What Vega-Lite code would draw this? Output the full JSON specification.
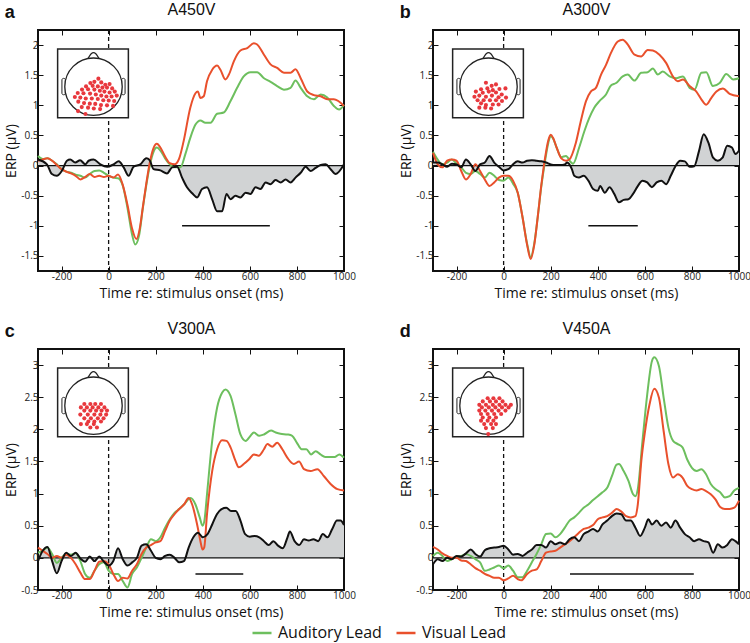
{
"$schema": "https://vega.github.io/schema/vega-lite/v6.json",
"padding": {"left": 3, "top": 0, "right": 2, "bottom": 2},
"config": {
  "font": "Open Sans",
  "view": {"stroke": "#111", "strokeWidth": 2},
  "axis": {"domain": false, "grid": false, "tickColor": "#111", "tickSize": -5, "tickWidth": 1, "labelColor": "#222", "labelFontSize": 10, "titleFontSize": 14, "titleFontWeight": "normal", "titleColor": "#111", "labelFlush": false},
  "legend": {"orient": "none", "legendX": 213, "legendY": 592, "direction": "horizontal", "symbolType": "stroke", "symbolSize": 361, "symbolStrokeWidth": 2.5, "labelFontSize": 16, "labelOffset": 5, "columnPadding": 9, "labelColor": "#111", "labelLimit": 300},
  "title": {"color": "#111"}
},
"datasets": {
  "sig": [{"p": "a", "t1": 312, "t2": 685, "y": -1}, {"p": "b", "t1": 360, "t2": 570, "y": -1}, {"p": "c", "t1": 369, "t2": 572, "y": -0.25}, {"p": "d", "t1": 282, "t2": 808, "y": -0.25}],
  "head": [
    {"k": "box", "x1": -1.25, "x2": 1.215, "y1": -1.08, "y2": 1.31},
    {"k": "ear", "x1": -1.1, "x2": -0.98, "y1": -0.28, "y2": 0.29},
    {"k": "ear", "x1": 0.98, "x2": 1.1, "y1": -0.28, "y2": 0.29},
    {"k": "nose", "x1": -0.2, "y1": 0.96}, {"k": "nose", "x1": -0.08, "y1": 1.15}, {"k": "nose", "x1": 0, "y1": 1.19}, {"k": "nose", "x1": 0.08, "y1": 1.15}, {"k": "nose", "x1": 0.2, "y1": 0.96},
    {"k": "head", "x1": 0, "y1": 0}
  ],
  "ea": [{"u":0.17,"v":0.28},{"u":0.03,"v":0.17},{"u":-0.11,"v":0.13},{"u":0.27,"v":0.15},{"u":0.41,"v":0.07},{"u":0.56,"v":0.09},{"u":-0.26,"v":0.01},{"u":-0.03,"v":0.03},{"u":0.15,"v":0.01},{"u":0.31,"v":-0.03},{"u":0.47,"v":-0.03},{"u":0.65,"v":-0.06},{"u":-0.4,"v":-0.1},{"u":-0.19,"v":-0.09},{"u":0.03,"v":-0.1},{"u":0.22,"v":-0.14},{"u":0.38,"v":-0.17},{"u":0.56,"v":-0.2},{"u":0.74,"v":-0.17},{"u":-0.55,"v":-0.22},{"u":-0.35,"v":-0.23},{"u":-0.12,"v":-0.24},{"u":0.08,"v":-0.27},{"u":0.27,"v":-0.31},{"u":0.45,"v":-0.34},{"u":0.63,"v":-0.34},{"u":0.81,"v":-0.31},{"u":-0.65,"v":-0.36},{"u":-0.46,"v":-0.38},{"u":-0.27,"v":-0.41},{"u":-0.06,"v":-0.41},{"u":0.15,"v":-0.43},{"u":0.34,"v":-0.47},{"u":0.53,"v":-0.48},{"u":0.72,"v":-0.5},{"u":-0.53,"v":-0.52},{"u":-0.33,"v":-0.57},{"u":-0.13,"v":-0.59},{"u":0.06,"v":-0.6},{"u":0.26,"v":-0.64},{"u":0.47,"v":-0.65},{"u":0.68,"v":-0.67},{"u":-0.41,"v":-0.71},{"u":-0.19,"v":-0.73},{"u":0.01,"v":-0.76},{"u":0.23,"v":-0.78},{"u":-0.54,"v":-0.85},{"u":-0.28,"v":-0.95}],
  "eb": [{"u":-0.09,"v":0.14},{"u":0.11,"v":0.03},{"u":0.26,"v":0.08},{"u":-0.26,"v":-0.09},{"u":-0.04,"v":-0.06},{"u":0.15,"v":-0.12},{"u":0.38,"v":-0.08},{"u":0.59,"v":-0.06},{"u":-0.44,"v":-0.17},{"u":-0.2,"v":-0.21},{"u":0.01,"v":-0.17},{"u":0.26,"v":-0.2},{"u":0.46,"v":-0.27},{"u":-0.49,"v":-0.35},{"u":-0.32,"v":-0.31},{"u":-0.09,"v":-0.35},{"u":0.12,"v":-0.31},{"u":0.35,"v":-0.37},{"u":0.61,"v":-0.38},{"u":-0.38,"v":-0.47},{"u":-0.17,"v":-0.47},{"u":0.05,"v":-0.47},{"u":0.26,"v":-0.47},{"u":0.47,"v":-0.5},{"u":-0.26,"v":-0.58},{"u":-0.09,"v":-0.64},{"u":0.15,"v":-0.62},{"u":0.35,"v":-0.62},{"u":-0.32,"v":-0.73},{"u":-0.11,"v":-0.73},{"u":0.09,"v":-0.76}],
  "ec": [{"u":-0.32,"v":0.06},{"u":-0.11,"v":0.06},{"u":0.06,"v":0.06},{"u":0.26,"v":0.06},{"u":-0.44,"v":-0.06},{"u":-0.23,"v":-0.06},{"u":-0.03,"v":-0.06},{"u":0.17,"v":-0.06},{"u":0.38,"v":-0.06},{"u":-0.32,"v":-0.17},{"u":-0.11,"v":-0.17},{"u":0.09,"v":-0.17},{"u":0.28,"v":-0.17},{"u":0.47,"v":-0.17},{"u":-0.46,"v":-0.31},{"u":-0.2,"v":-0.31},{"u":0.03,"v":-0.31},{"u":0.24,"v":-0.31},{"u":0.44,"v":-0.31},{"u":-0.32,"v":-0.44},{"u":-0.09,"v":-0.44},{"u":0.15,"v":-0.44},{"u":0.35,"v":-0.44},{"u":-0.18,"v":-0.55},{"u":0.03,"v":-0.55},{"u":0.26,"v":-0.55},{"u":-0.44,"v":-0.64},{"u":-0.23,"v":-0.64},{"u":0.01,"v":-0.64},{"u":-0.11,"v":-0.76},{"u":0.12,"v":-0.76}],
  "ed": [{"u":-0.03,"v":0.26},{"u":0.17,"v":0.26},{"u":0.38,"v":0.26},{"u":-0.2,"v":0.15},{"u":0.05,"v":0.15},{"u":0.26,"v":0.15},{"u":0.49,"v":0.15},{"u":-0.32,"v":0.03},{"u":-0.09,"v":0.03},{"u":0.15,"v":0.03},{"u":0.38,"v":0.03},{"u":0.59,"v":0.03},{"u":0.78,"v":0.03},{"u":-0.23,"v":-0.06},{"u":0.01,"v":-0.06},{"u":0.24,"v":-0.06},{"u":0.47,"v":-0.06},{"u":0.7,"v":-0.06},{"u":-0.32,"v":-0.17},{"u":-0.11,"v":-0.17},{"u":0.12,"v":-0.17},{"u":0.35,"v":-0.17},{"u":0.59,"v":-0.17},{"u":-0.26,"v":-0.29},{"u":-0.03,"v":-0.29},{"u":0.2,"v":-0.29},{"u":0.44,"v":-0.29},{"u":-0.2,"v":-0.41},{"u":0.03,"v":-0.41},{"u":0.26,"v":-0.41},{"u":-0.26,"v":-0.52},{"u":-0.03,"v":-0.52},{"u":0.17,"v":-0.52},{"u":-0.15,"v":-0.64},{"u":0.09,"v":-0.64},{"u":0.26,"v":-0.64},{"u":-0.09,"v":-0.78},{"u":0.15,"v":-0.78},{"u":-0.01,"v":-0.99}],
  "ca": [
{"s":"A","t":-300,"v":0.16},{"s":"A","t":-280,"v":0.11},{"s":"A","t":-260,"v":0.12},{"s":"A","t":-240,"v":0.08},{"s":"A","t":-220,"v":0.02},{"s":"A","t":-200,"v":-0.06},{"s":"A","t":-180,"v":-0.1},{"s":"A","t":-160,"v":-0.12},{"s":"A","t":-140,"v":-0.15},{"s":"A","t":-120,"v":-0.17},{"s":"A","t":-100,"v":-0.2},{"s":"A","t":-80,"v":-0.14},{"s":"A","t":-60,"v":-0.09},{"s":"A","t":-40,"v":-0.08},{"s":"A","t":-20,"v":-0.12},{"s":"A","t":0,"v":-0.17},{"s":"A","t":20,"v":-0.2},{"s":"A","t":40,"v":-0.21},{"s":"A","t":60,"v":-0.33},{"s":"A","t":80,"v":-0.7},{"s":"A","t":100,"v":-1.15},{"s":"A","t":113,"v":-1.31},{"s":"A","t":130,"v":-1.15},{"s":"A","t":145,"v":-0.72},{"s":"A","t":160,"v":-0.33},{"s":"A","t":175,"v":0.0},{"s":"A","t":190,"v":0.22},{"s":"A","t":205,"v":0.3},{"s":"A","t":220,"v":0.25},{"s":"A","t":240,"v":0.12},{"s":"A","t":260,"v":0.02},{"s":"A","t":280,"v":-0.03},{"s":"A","t":305,"v":-0.03},{"s":"A","t":326,"v":0.19},{"s":"A","t":347,"v":0.46},{"s":"A","t":369,"v":0.68},{"s":"A","t":390,"v":0.75},{"s":"A","t":411,"v":0.71},{"s":"A","t":433,"v":0.71},{"s":"A","t":461,"v":0.86},{"s":"A","t":489,"v":0.88},{"s":"A","t":518,"v":1.07},{"s":"A","t":546,"v":1.29},{"s":"A","t":574,"v":1.48},{"s":"A","t":603,"v":1.55},{"s":"A","t":631,"v":1.55},{"s":"A","t":660,"v":1.45},{"s":"A","t":688,"v":1.39},{"s":"A","t":716,"v":1.32},{"s":"A","t":745,"v":1.26},{"s":"A","t":773,"v":1.29},{"s":"A","t":794,"v":1.41},{"s":"A","t":816,"v":1.29},{"s":"A","t":844,"v":1.15},{"s":"A","t":872,"v":1.1},{"s":"A","t":901,"v":1.18},{"s":"A","t":929,"v":1.13},{"s":"A","t":957,"v":0.99},{"s":"A","t":979,"v":0.93},{"s":"A","t":1000,"v":1.01},
{"s":"V","t":-300,"v":0.08},{"s":"V","t":-280,"v":0.1},{"s":"V","t":-260,"v":0.12},{"s":"V","t":-240,"v":0.08},{"s":"V","t":-220,"v":0.01},{"s":"V","t":-200,"v":-0.06},{"s":"V","t":-180,"v":-0.1},{"s":"V","t":-160,"v":-0.13},{"s":"V","t":-140,"v":-0.17},{"s":"V","t":-120,"v":-0.23},{"s":"V","t":-100,"v":-0.19},{"s":"V","t":-80,"v":-0.14},{"s":"V","t":-60,"v":-0.19},{"s":"V","t":-40,"v":-0.17},{"s":"V","t":-20,"v":-0.19},{"s":"V","t":0,"v":-0.17},{"s":"V","t":20,"v":-0.2},{"s":"V","t":40,"v":-0.15},{"s":"V","t":60,"v":-0.32},{"s":"V","t":80,"v":-0.65},{"s":"V","t":100,"v":-1.05},{"s":"V","t":118,"v":-1.22},{"s":"V","t":132,"v":-1.05},{"s":"V","t":145,"v":-0.7},{"s":"V","t":160,"v":-0.3},{"s":"V","t":175,"v":0.05},{"s":"V","t":190,"v":0.28},{"s":"V","t":205,"v":0.36},{"s":"V","t":220,"v":0.3},{"s":"V","t":240,"v":0.15},{"s":"V","t":260,"v":0.04},{"s":"V","t":280,"v":0.02},{"s":"V","t":300,"v":0.12},{"s":"V","t":319,"v":0.41},{"s":"V","t":347,"v":0.96},{"s":"V","t":369,"v":1.2},{"s":"V","t":379,"v":1.23},{"s":"V","t":390,"v":1.12},{"s":"V","t":404,"v":1.15},{"s":"V","t":418,"v":1.4},{"s":"V","t":440,"v":1.59},{"s":"V","t":461,"v":1.66},{"s":"V","t":475,"v":1.59},{"s":"V","t":496,"v":1.43},{"s":"V","t":511,"v":1.51},{"s":"V","t":532,"v":1.73},{"s":"V","t":560,"v":1.91},{"s":"V","t":589,"v":1.95},{"s":"V","t":617,"v":2.03},{"s":"V","t":631,"v":2.01},{"s":"V","t":660,"v":1.84},{"s":"V","t":688,"v":1.68},{"s":"V","t":716,"v":1.62},{"s":"V","t":745,"v":1.54},{"s":"V","t":773,"v":1.54},{"s":"V","t":794,"v":1.6},{"s":"V","t":816,"v":1.45},{"s":"V","t":844,"v":1.23},{"s":"V","t":872,"v":1.17},{"s":"V","t":901,"v":1.15},{"s":"V","t":929,"v":1.1},{"s":"V","t":957,"v":1.1},{"s":"V","t":1000,"v":0.99},
{"s":"D","t":-300,"v":0.1},{"s":"D","t":-262,"v":0.02},{"s":"D","t":-241,"v":-0.14},{"s":"D","t":-220,"v":-0.17},{"s":"D","t":-199,"v":-0.09},{"s":"D","t":-177,"v":0.08},{"s":"D","t":-163,"v":0.1},{"s":"D","t":-142,"v":0.05},{"s":"D","t":-121,"v":0.09},{"s":"D","t":-99,"v":0.02},{"s":"D","t":-85,"v":0.08},{"s":"D","t":-64,"v":0.1},{"s":"D","t":-35,"v":0.02},{"s":"D","t":-6,"v":-0.02},{"s":"D","t":21,"v":0.02},{"s":"D","t":43,"v":0.07},{"s":"D","t":64,"v":-0.03},{"s":"D","t":85,"v":-0.17},{"s":"D","t":106,"v":-0.02},{"s":"D","t":135,"v":0.02},{"s":"D","t":160,"v":0.12},{"s":"D","t":174,"v":0.09},{"s":"D","t":191,"v":-0.06},{"s":"D","t":220,"v":-0.08},{"s":"D","t":248,"v":-0.13},{"s":"D","t":270,"v":-0.03},{"s":"D","t":291,"v":-0.02},{"s":"D","t":312,"v":-0.2},{"s":"D","t":333,"v":-0.36},{"s":"D","t":355,"v":-0.46},{"s":"D","t":376,"v":-0.53},{"s":"D","t":397,"v":-0.39},{"s":"D","t":418,"v":-0.36},{"s":"D","t":440,"v":-0.56},{"s":"D","t":461,"v":-0.76},{"s":"D","t":482,"v":-0.76},{"s":"D","t":501,"v":-0.47},{"s":"D","t":518,"v":-0.56},{"s":"D","t":539,"v":-0.5},{"s":"D","t":560,"v":-0.53},{"s":"D","t":582,"v":-0.45},{"s":"D","t":603,"v":-0.47},{"s":"D","t":624,"v":-0.36},{"s":"D","t":645,"v":-0.39},{"s":"D","t":667,"v":-0.28},{"s":"D","t":688,"v":-0.31},{"s":"D","t":709,"v":-0.24},{"s":"D","t":731,"v":-0.28},{"s":"D","t":752,"v":-0.23},{"s":"D","t":773,"v":-0.28},{"s":"D","t":794,"v":-0.2},{"s":"D","t":816,"v":-0.12},{"s":"D","t":837,"v":-0.02},{"s":"D","t":858,"v":-0.09},{"s":"D","t":879,"v":-0.04},{"s":"D","t":901,"v":0.01},{"s":"D","t":922,"v":0.02},{"s":"D","t":943,"v":-0.06},{"s":"D","t":965,"v":-0.14},{"s":"D","t":1000,"v":0.02}
  ],
  "cb": [
{"s":"A","t":-300,"v":0.23},{"s":"A","t":-280,"v":0.1},{"s":"A","t":-260,"v":0.02},{"s":"A","t":-240,"v":0.05},{"s":"A","t":-220,"v":0.1},{"s":"A","t":-200,"v":0.03},{"s":"A","t":-180,"v":-0.03},{"s":"A","t":-160,"v":-0.12},{"s":"A","t":-140,"v":-0.14},{"s":"A","t":-120,"v":-0.09},{"s":"A","t":-100,"v":-0.14},{"s":"A","t":-80,"v":-0.2},{"s":"A","t":-60,"v":-0.12},{"s":"A","t":-40,"v":-0.17},{"s":"A","t":-20,"v":-0.24},{"s":"A","t":0,"v":-0.25},{"s":"A","t":20,"v":-0.2},{"s":"A","t":40,"v":-0.3},{"s":"A","t":60,"v":-0.45},{"s":"A","t":80,"v":-0.85},{"s":"A","t":100,"v":-1.3},{"s":"A","t":115,"v":-1.52},{"s":"A","t":130,"v":-1.3},{"s":"A","t":145,"v":-0.85},{"s":"A","t":160,"v":-0.35},{"s":"A","t":175,"v":0.05},{"s":"A","t":190,"v":0.38},{"s":"A","t":200,"v":0.49},{"s":"A","t":210,"v":0.45},{"s":"A","t":225,"v":0.3},{"s":"A","t":245,"v":0.14},{"s":"A","t":265,"v":0.16},{"s":"A","t":285,"v":0.06},{"s":"A","t":295,"v":0.03},{"s":"A","t":321,"v":0.3},{"s":"A","t":343,"v":0.57},{"s":"A","t":364,"v":0.79},{"s":"A","t":385,"v":0.96},{"s":"A","t":407,"v":1.07},{"s":"A","t":435,"v":1.18},{"s":"A","t":456,"v":1.33},{"s":"A","t":478,"v":1.37},{"s":"A","t":506,"v":1.48},{"s":"A","t":527,"v":1.51},{"s":"A","t":556,"v":1.41},{"s":"A","t":584,"v":1.54},{"s":"A","t":612,"v":1.55},{"s":"A","t":634,"v":1.61},{"s":"A","t":655,"v":1.51},{"s":"A","t":676,"v":1.56},{"s":"A","t":705,"v":1.48},{"s":"A","t":733,"v":1.45},{"s":"A","t":762,"v":1.48},{"s":"A","t":790,"v":1.29},{"s":"A","t":811,"v":1.26},{"s":"A","t":840,"v":1.54},{"s":"A","t":861,"v":1.55},{"s":"A","t":889,"v":1.32},{"s":"A","t":918,"v":1.37},{"s":"A","t":946,"v":1.52},{"s":"A","t":975,"v":1.43},{"s":"A","t":1000,"v":1.45},
{"s":"V","t":-300,"v":0.21},{"s":"V","t":-280,"v":0.02},{"s":"V","t":-260,"v":-0.03},{"s":"V","t":-240,"v":0.08},{"s":"V","t":-220,"v":0.1},{"s":"V","t":-200,"v":0.08},{"s":"V","t":-180,"v":-0.09},{"s":"V","t":-160,"v":-0.23},{"s":"V","t":-140,"v":-0.14},{"s":"V","t":-120,"v":0.02},{"s":"V","t":-100,"v":-0.09},{"s":"V","t":-80,"v":-0.23},{"s":"V","t":-60,"v":-0.34},{"s":"V","t":-40,"v":-0.28},{"s":"V","t":-20,"v":-0.2},{"s":"V","t":0,"v":-0.17},{"s":"V","t":20,"v":-0.17},{"s":"V","t":40,"v":-0.25},{"s":"V","t":60,"v":-0.45},{"s":"V","t":80,"v":-0.85},{"s":"V","t":100,"v":-1.32},{"s":"V","t":115,"v":-1.55},{"s":"V","t":130,"v":-1.32},{"s":"V","t":145,"v":-0.85},{"s":"V","t":160,"v":-0.33},{"s":"V","t":175,"v":0.1},{"s":"V","t":190,"v":0.42},{"s":"V","t":200,"v":0.51},{"s":"V","t":210,"v":0.46},{"s":"V","t":225,"v":0.3},{"s":"V","t":245,"v":0.12},{"s":"V","t":265,"v":0.08},{"s":"V","t":279,"v":0.1},{"s":"V","t":307,"v":0.38},{"s":"V","t":328,"v":0.74},{"s":"V","t":350,"v":1.07},{"s":"V","t":371,"v":1.23},{"s":"V","t":392,"v":1.29},{"s":"V","t":414,"v":1.51},{"s":"V","t":435,"v":1.67},{"s":"V","t":456,"v":1.87},{"s":"V","t":485,"v":2.06},{"s":"V","t":506,"v":2.09},{"s":"V","t":527,"v":2.01},{"s":"V","t":556,"v":1.84},{"s":"V","t":584,"v":1.81},{"s":"V","t":612,"v":1.92},{"s":"V","t":634,"v":1.91},{"s":"V","t":662,"v":1.84},{"s":"V","t":691,"v":1.7},{"s":"V","t":719,"v":1.48},{"s":"V","t":740,"v":1.4},{"s":"V","t":762,"v":1.43},{"s":"V","t":790,"v":1.32},{"s":"V","t":818,"v":1.23},{"s":"V","t":840,"v":1.1},{"s":"V","t":861,"v":1.01},{"s":"V","t":882,"v":1.12},{"s":"V","t":904,"v":1.23},{"s":"V","t":932,"v":1.28},{"s":"V","t":960,"v":1.19},{"s":"V","t":1000,"v":1.15},
{"s":"D","t":-300,"v":0.05},{"s":"D","t":-280,"v":0.05},{"s":"D","t":-260,"v":0.02},{"s":"D","t":-240,"v":-0.02},{"s":"D","t":-220,"v":0.03},{"s":"D","t":-200,"v":0.02},{"s":"D","t":-180,"v":-0.03},{"s":"D","t":-160,"v":0.1},{"s":"D","t":-140,"v":0.02},{"s":"D","t":-120,"v":-0.09},{"s":"D","t":-100,"v":0.02},{"s":"D","t":-80,"v":0.05},{"s":"D","t":-60,"v":0.16},{"s":"D","t":-40,"v":0.05},{"s":"D","t":-20,"v":-0.02},{"s":"D","t":0,"v":-0.08},{"s":"D","t":20,"v":-0.06},{"s":"D","t":40,"v":0.02},{"s":"D","t":60,"v":0.07},{"s":"D","t":80,"v":0.05},{"s":"D","t":100,"v":0.08},{"s":"D","t":120,"v":0.09},{"s":"D","t":140,"v":0.08},{"s":"D","t":160,"v":0.07},{"s":"D","t":180,"v":0.05},{"s":"D","t":200,"v":0.02},{"s":"D","t":220,"v":0.01},{"s":"D","t":240,"v":0.01},{"s":"D","t":260,"v":0.02},{"s":"D","t":270,"v":0.05},{"s":"D","t":290,"v":-0.06},{"s":"D","t":300,"v":-0.17},{"s":"D","t":320,"v":-0.2},{"s":"D","t":340,"v":-0.17},{"s":"D","t":360,"v":-0.25},{"s":"D","t":380,"v":-0.39},{"s":"D","t":400,"v":-0.42},{"s":"D","t":410,"v":-0.34},{"s":"D","t":430,"v":-0.45},{"s":"D","t":450,"v":-0.36},{"s":"D","t":470,"v":-0.47},{"s":"D","t":490,"v":-0.61},{"s":"D","t":510,"v":-0.57},{"s":"D","t":530,"v":-0.56},{"s":"D","t":550,"v":-0.47},{"s":"D","t":570,"v":-0.34},{"s":"D","t":590,"v":-0.25},{"s":"D","t":610,"v":-0.28},{"s":"D","t":630,"v":-0.36},{"s":"D","t":650,"v":-0.28},{"s":"D","t":670,"v":-0.25},{"s":"D","t":690,"v":-0.31},{"s":"D","t":710,"v":-0.17},{"s":"D","t":730,"v":-0.01},{"s":"D","t":750,"v":0.08},{"s":"D","t":770,"v":0.07},{"s":"D","t":790,"v":-0.02},{"s":"D","t":810,"v":-0.01},{"s":"D","t":830,"v":0.24},{"s":"D","t":850,"v":0.52},{"s":"D","t":870,"v":0.38},{"s":"D","t":890,"v":0.13},{"s":"D","t":910,"v":0.08},{"s":"D","t":930,"v":0.13},{"s":"D","t":950,"v":0.33},{"s":"D","t":970,"v":0.3},{"s":"D","t":985,"v":0.19},{"s":"D","t":1000,"v":0.25}
  ],
  "cc": [
{"s":"A","t":-300,"v":0.08},{"s":"A","t":-280,"v":0.11},{"s":"A","t":-260,"v":0.16},{"s":"A","t":-240,"v":0.06},{"s":"A","t":-220,"v":-0.08},{"s":"A","t":-200,"v":0.0},{"s":"A","t":-180,"v":0.06},{"s":"A","t":-160,"v":0.05},{"s":"A","t":-140,"v":0.07},{"s":"A","t":-120,"v":-0.05},{"s":"A","t":-100,"v":-0.25},{"s":"A","t":-80,"v":-0.31},{"s":"A","t":-60,"v":-0.2},{"s":"A","t":-40,"v":-0.1},{"s":"A","t":-20,"v":-0.07},{"s":"A","t":0,"v":-0.2},{"s":"A","t":20,"v":-0.25},{"s":"A","t":40,"v":-0.25},{"s":"A","t":60,"v":-0.36},{"s":"A","t":80,"v":-0.46},{"s":"A","t":100,"v":-0.25},{"s":"A","t":120,"v":-0.15},{"s":"A","t":140,"v":0.0},{"s":"A","t":160,"v":0.16},{"s":"A","t":180,"v":0.29},{"s":"A","t":200,"v":0.26},{"s":"A","t":220,"v":0.32},{"s":"A","t":240,"v":0.47},{"s":"A","t":260,"v":0.6},{"s":"A","t":280,"v":0.7},{"s":"A","t":300,"v":0.76},{"s":"A","t":320,"v":0.83},{"s":"A","t":348,"v":0.93},{"s":"A","t":369,"v":0.83},{"s":"A","t":387,"v":0.63},{"s":"A","t":399,"v":0.5},{"s":"A","t":407,"v":0.58},{"s":"A","t":418,"v":0.99},{"s":"A","t":440,"v":1.82},{"s":"A","t":461,"v":2.34},{"s":"A","t":482,"v":2.57},{"s":"A","t":496,"v":2.62},{"s":"A","t":518,"v":2.52},{"s":"A","t":539,"v":2.23},{"s":"A","t":560,"v":1.92},{"s":"A","t":582,"v":1.82},{"s":"A","t":603,"v":1.9},{"s":"A","t":617,"v":1.95},{"s":"A","t":640,"v":1.9},{"s":"A","t":660,"v":1.92},{"s":"A","t":690,"v":1.98},{"s":"A","t":710,"v":1.95},{"s":"A","t":730,"v":1.93},{"s":"A","t":760,"v":1.92},{"s":"A","t":780,"v":1.9},{"s":"A","t":800,"v":1.79},{"s":"A","t":820,"v":1.69},{"s":"A","t":840,"v":1.69},{"s":"A","t":860,"v":1.61},{"s":"A","t":880,"v":1.66},{"s":"A","t":900,"v":1.61},{"s":"A","t":920,"v":1.57},{"s":"A","t":940,"v":1.57},{"s":"A","t":960,"v":1.57},{"s":"A","t":980,"v":1.61},{"s":"A","t":1000,"v":1.56},
{"s":"V","t":-300,"v":0.16},{"s":"V","t":-280,"v":0.11},{"s":"V","t":-260,"v":0.06},{"s":"V","t":-240,"v":0.0},{"s":"V","t":-220,"v":0.03},{"s":"V","t":-200,"v":0.0},{"s":"V","t":-180,"v":0.05},{"s":"V","t":-160,"v":0.0},{"s":"V","t":-140,"v":-0.1},{"s":"V","t":-120,"v":-0.23},{"s":"V","t":-100,"v":-0.33},{"s":"V","t":-80,"v":-0.33},{"s":"V","t":-60,"v":-0.2},{"s":"V","t":-40,"v":-0.06},{"s":"V","t":-20,"v":-0.05},{"s":"V","t":0,"v":-0.1},{"s":"V","t":20,"v":-0.25},{"s":"V","t":40,"v":-0.36},{"s":"V","t":60,"v":-0.31},{"s":"V","t":80,"v":-0.32},{"s":"V","t":100,"v":-0.2},{"s":"V","t":120,"v":-0.1},{"s":"V","t":140,"v":0.06},{"s":"V","t":160,"v":0.16},{"s":"V","t":180,"v":0.2},{"s":"V","t":200,"v":0.24},{"s":"V","t":220,"v":0.26},{"s":"V","t":240,"v":0.42},{"s":"V","t":260,"v":0.58},{"s":"V","t":280,"v":0.68},{"s":"V","t":300,"v":0.76},{"s":"V","t":320,"v":0.83},{"s":"V","t":340,"v":0.93},{"s":"V","t":355,"v":0.83},{"s":"V","t":376,"v":0.52},{"s":"V","t":390,"v":0.26},{"s":"V","t":399,"v":0.13},{"s":"V","t":406,"v":0.16},{"s":"V","t":418,"v":0.68},{"s":"V","t":440,"v":1.35},{"s":"V","t":461,"v":1.69},{"s":"V","t":482,"v":1.83},{"s":"V","t":501,"v":1.82},{"s":"V","t":518,"v":1.72},{"s":"V","t":539,"v":1.51},{"s":"V","t":553,"v":1.41},{"s":"V","t":574,"v":1.46},{"s":"V","t":596,"v":1.53},{"s":"V","t":617,"v":1.61},{"s":"V","t":638,"v":1.59},{"s":"V","t":660,"v":1.69},{"s":"V","t":674,"v":1.77},{"s":"V","t":695,"v":1.73},{"s":"V","t":716,"v":1.79},{"s":"V","t":738,"v":1.69},{"s":"V","t":759,"v":1.56},{"s":"V","t":787,"v":1.46},{"s":"V","t":809,"v":1.5},{"s":"V","t":830,"v":1.38},{"s":"V","t":858,"v":1.35},{"s":"V","t":887,"v":1.38},{"s":"V","t":915,"v":1.27},{"s":"V","t":943,"v":1.15},{"s":"V","t":972,"v":1.07},{"s":"V","t":1000,"v":1.05},
{"s":"D","t":-300,"v":-0.05},{"s":"D","t":-280,"v":0.11},{"s":"D","t":-260,"v":0.17},{"s":"D","t":-240,"v":-0.05},{"s":"D","t":-220,"v":-0.24},{"s":"D","t":-200,"v":-0.05},{"s":"D","t":-180,"v":0.08},{"s":"D","t":-160,"v":0.03},{"s":"D","t":-140,"v":0.08},{"s":"D","t":-120,"v":-0.01},{"s":"D","t":-100,"v":-0.06},{"s":"D","t":-80,"v":0.02},{"s":"D","t":-60,"v":-0.05},{"s":"D","t":-40,"v":0.02},{"s":"D","t":-20,"v":-0.06},{"s":"D","t":0,"v":-0.12},{"s":"D","t":20,"v":-0.05},{"s":"D","t":40,"v":0.15},{"s":"D","t":60,"v":-0.02},{"s":"D","t":80,"v":-0.12},{"s":"D","t":100,"v":-0.07},{"s":"D","t":120,"v":0.0},{"s":"D","t":140,"v":0.19},{"s":"D","t":160,"v":0.21},{"s":"D","t":180,"v":0.11},{"s":"D","t":200,"v":0.0},{"s":"D","t":220,"v":-0.02},{"s":"D","t":240,"v":0.03},{"s":"D","t":260,"v":0.05},{"s":"D","t":280,"v":0.0},{"s":"D","t":300,"v":-0.07},{"s":"D","t":320,"v":-0.05},{"s":"D","t":340,"v":0.16},{"s":"D","t":360,"v":0.32},{"s":"D","t":380,"v":0.39},{"s":"D","t":400,"v":0.32},{"s":"D","t":420,"v":0.37},{"s":"D","t":440,"v":0.52},{"s":"D","t":460,"v":0.68},{"s":"D","t":480,"v":0.76},{"s":"D","t":500,"v":0.78},{"s":"D","t":520,"v":0.73},{"s":"D","t":540,"v":0.73},{"s":"D","t":560,"v":0.58},{"s":"D","t":580,"v":0.37},{"s":"D","t":600,"v":0.33},{"s":"D","t":620,"v":0.34},{"s":"D","t":640,"v":0.32},{"s":"D","t":660,"v":0.26},{"s":"D","t":680,"v":0.2},{"s":"D","t":700,"v":0.26},{"s":"D","t":720,"v":0.19},{"s":"D","t":740,"v":0.15},{"s":"D","t":760,"v":0.32},{"s":"D","t":770,"v":0.41},{"s":"D","t":790,"v":0.26},{"s":"D","t":810,"v":0.2},{"s":"D","t":830,"v":0.29},{"s":"D","t":850,"v":0.27},{"s":"D","t":870,"v":0.29},{"s":"D","t":890,"v":0.26},{"s":"D","t":910,"v":0.37},{"s":"D","t":930,"v":0.32},{"s":"D","t":950,"v":0.45},{"s":"D","t":970,"v":0.58},{"s":"D","t":985,"v":0.58},{"s":"D","t":1000,"v":0.51}
  ],
  "cd": [
{"s":"A","t":-300,"v":0.03},{"s":"A","t":-280,"v":0.08},{"s":"A","t":-260,"v":0.03},{"s":"A","t":-240,"v":-0.05},{"s":"A","t":-220,"v":-0.02},{"s":"A","t":-200,"v":0.02},{"s":"A","t":-180,"v":0.03},{"s":"A","t":-160,"v":0.06},{"s":"A","t":-140,"v":0.03},{"s":"A","t":-120,"v":-0.02},{"s":"A","t":-100,"v":-0.07},{"s":"A","t":-80,"v":-0.2},{"s":"A","t":-60,"v":-0.18},{"s":"A","t":-40,"v":-0.15},{"s":"A","t":-20,"v":-0.12},{"s":"A","t":0,"v":-0.16},{"s":"A","t":20,"v":-0.12},{"s":"A","t":40,"v":-0.2},{"s":"A","t":60,"v":-0.3},{"s":"A","t":80,"v":-0.3},{"s":"A","t":100,"v":-0.2},{"s":"A","t":120,"v":-0.07},{"s":"A","t":140,"v":0.06},{"s":"A","t":160,"v":0.21},{"s":"A","t":180,"v":0.37},{"s":"A","t":200,"v":0.38},{"s":"A","t":220,"v":0.32},{"s":"A","t":240,"v":0.37},{"s":"A","t":260,"v":0.47},{"s":"A","t":280,"v":0.58},{"s":"A","t":300,"v":0.63},{"s":"A","t":320,"v":0.7},{"s":"A","t":340,"v":0.78},{"s":"A","t":360,"v":0.83},{"s":"A","t":380,"v":0.9},{"s":"A","t":400,"v":0.96},{"s":"A","t":420,"v":1.02},{"s":"A","t":440,"v":1.09},{"s":"A","t":460,"v":1.27},{"s":"A","t":480,"v":1.45},{"s":"A","t":490,"v":1.46},{"s":"A","t":510,"v":1.35},{"s":"A","t":530,"v":1.2},{"s":"A","t":550,"v":0.99},{"s":"A","t":560,"v":0.96},{"s":"A","t":570,"v":1.07},{"s":"A","t":590,"v":1.82},{"s":"A","t":610,"v":2.54},{"s":"A","t":630,"v":3.06},{"s":"A","t":640,"v":3.12},{"s":"A","t":660,"v":2.98},{"s":"A","t":680,"v":2.49},{"s":"A","t":700,"v":2.03},{"s":"A","t":720,"v":1.82},{"s":"A","t":740,"v":1.77},{"s":"A","t":760,"v":1.72},{"s":"A","t":780,"v":1.53},{"s":"A","t":800,"v":1.4},{"s":"A","t":820,"v":1.35},{"s":"A","t":840,"v":1.38},{"s":"A","t":860,"v":1.3},{"s":"A","t":880,"v":1.15},{"s":"A","t":900,"v":1.07},{"s":"A","t":920,"v":1.02},{"s":"A","t":940,"v":0.94},{"s":"A","t":960,"v":0.96},{"s":"A","t":980,"v":1.05},{"s":"A","t":1000,"v":1.09},
{"s":"V","t":-300,"v":0.17},{"s":"V","t":-280,"v":0.13},{"s":"V","t":-260,"v":0.07},{"s":"V","t":-240,"v":0.03},{"s":"V","t":-220,"v":0.0},{"s":"V","t":-200,"v":0.0},{"s":"V","t":-180,"v":-0.04},{"s":"V","t":-160,"v":-0.05},{"s":"V","t":-140,"v":-0.1},{"s":"V","t":-120,"v":-0.16},{"s":"V","t":-100,"v":-0.2},{"s":"V","t":-80,"v":-0.25},{"s":"V","t":-60,"v":-0.28},{"s":"V","t":-40,"v":-0.31},{"s":"V","t":-20,"v":-0.31},{"s":"V","t":0,"v":-0.35},{"s":"V","t":20,"v":-0.32},{"s":"V","t":40,"v":-0.28},{"s":"V","t":60,"v":-0.33},{"s":"V","t":75,"v":-0.35},{"s":"V","t":100,"v":-0.25},{"s":"V","t":120,"v":-0.2},{"s":"V","t":140,"v":-0.18},{"s":"V","t":160,"v":-0.05},{"s":"V","t":180,"v":0.08},{"s":"V","t":200,"v":0.1},{"s":"V","t":220,"v":0.11},{"s":"V","t":240,"v":0.16},{"s":"V","t":260,"v":0.21},{"s":"V","t":280,"v":0.26},{"s":"V","t":300,"v":0.32},{"s":"V","t":320,"v":0.39},{"s":"V","t":340,"v":0.45},{"s":"V","t":360,"v":0.47},{"s":"V","t":380,"v":0.51},{"s":"V","t":400,"v":0.6},{"s":"V","t":420,"v":0.63},{"s":"V","t":440,"v":0.65},{"s":"V","t":460,"v":0.7},{"s":"V","t":480,"v":0.76},{"s":"V","t":500,"v":0.72},{"s":"V","t":520,"v":0.65},{"s":"V","t":540,"v":0.63},{"s":"V","t":560,"v":0.65},{"s":"V","t":570,"v":0.83},{"s":"V","t":585,"v":1.51},{"s":"V","t":600,"v":1.95},{"s":"V","t":620,"v":2.39},{"s":"V","t":640,"v":2.63},{"s":"V","t":660,"v":2.49},{"s":"V","t":680,"v":1.97},{"s":"V","t":700,"v":1.46},{"s":"V","t":720,"v":1.25},{"s":"V","t":740,"v":1.3},{"s":"V","t":760,"v":1.25},{"s":"V","t":780,"v":1.12},{"s":"V","t":800,"v":1.07},{"s":"V","t":820,"v":1.05},{"s":"V","t":840,"v":1.07},{"s":"V","t":860,"v":1.04},{"s":"V","t":880,"v":0.99},{"s":"V","t":900,"v":0.91},{"s":"V","t":920,"v":0.79},{"s":"V","t":940,"v":0.76},{"s":"V","t":960,"v":0.76},{"s":"V","t":980,"v":0.78},{"s":"V","t":1000,"v":0.89},
{"s":"D","t":-300,"v":-0.1},{"s":"D","t":-280,"v":-0.02},{"s":"D","t":-260,"v":-0.05},{"s":"D","t":-240,"v":0.0},{"s":"D","t":-220,"v":-0.02},{"s":"D","t":-200,"v":0.03},{"s":"D","t":-180,"v":0.02},{"s":"D","t":-160,"v":0.07},{"s":"D","t":-140,"v":0.13},{"s":"D","t":-120,"v":0.06},{"s":"D","t":-100,"v":0.02},{"s":"D","t":-80,"v":0.12},{"s":"D","t":-60,"v":0.15},{"s":"D","t":-40,"v":0.16},{"s":"D","t":-20,"v":0.17},{"s":"D","t":0,"v":0.19},{"s":"D","t":20,"v":0.13},{"s":"D","t":40,"v":0.05},{"s":"D","t":60,"v":0.06},{"s":"D","t":80,"v":0.03},{"s":"D","t":100,"v":0.08},{"s":"D","t":120,"v":0.13},{"s":"D","t":140,"v":0.2},{"s":"D","t":160,"v":0.2},{"s":"D","t":180,"v":0.16},{"s":"D","t":200,"v":0.26},{"s":"D","t":220,"v":0.21},{"s":"D","t":240,"v":0.24},{"s":"D","t":260,"v":0.21},{"s":"D","t":280,"v":0.29},{"s":"D","t":300,"v":0.32},{"s":"D","t":320,"v":0.26},{"s":"D","t":340,"v":0.37},{"s":"D","t":360,"v":0.41},{"s":"D","t":380,"v":0.45},{"s":"D","t":400,"v":0.41},{"s":"D","t":420,"v":0.52},{"s":"D","t":440,"v":0.58},{"s":"D","t":460,"v":0.65},{"s":"D","t":480,"v":0.69},{"s":"D","t":500,"v":0.68},{"s":"D","t":520,"v":0.58},{"s":"D","t":540,"v":0.58},{"s":"D","t":560,"v":0.47},{"s":"D","t":580,"v":0.34},{"s":"D","t":600,"v":0.47},{"s":"D","t":615,"v":0.6},{"s":"D","t":630,"v":0.52},{"s":"D","t":650,"v":0.58},{"s":"D","t":670,"v":0.5},{"s":"D","t":690,"v":0.55},{"s":"D","t":710,"v":0.47},{"s":"D","t":730,"v":0.58},{"s":"D","t":750,"v":0.47},{"s":"D","t":770,"v":0.37},{"s":"D","t":790,"v":0.32},{"s":"D","t":810,"v":0.26},{"s":"D","t":830,"v":0.29},{"s":"D","t":850,"v":0.26},{"s":"D","t":870,"v":0.24},{"s":"D","t":890,"v":0.08},{"s":"D","t":910,"v":0.21},{"s":"D","t":930,"v":0.16},{"s":"D","t":950,"v":0.2},{"s":"D","t":970,"v":0.29},{"s":"D","t":985,"v":0.26},{"s":"D","t":1000,"v":0.21}
  ]
},
"bounds": "flush",
"columns": 2,
"spacing": {"row": 78, "column": 89},
"resolve": {"scale": {"color": "shared"}, "legend": {"color": "shared"}},
"concat": [
{
  "width": 306, "height": 241,
  "title": {"text": "a", "anchor": "start", "frame": "bounds", "font": "Liberation Sans", "fontSize": 18, "fontWeight": "bold", "baseline": "alphabetic", "offset": 0, "dy": 34},
  "resolve": {"scale": {"x": "independent", "y": "independent"}},
  "layer": [
    {
      "resolve": {"axis": {"x": "independent", "y": "independent"}},
      "layer": [
        {"data": {"name": "ca"}, "transform": [{"filter": "datum.s=='D'"}], "mark": {"type": "area", "color": "#d1d3d4", "interpolate": "monotone"},
         "encoding": {"x": {"field": "t", "type": "quantitative", "scale": {"domain": [-300, 1000], "nice": false, "zero": false}, "axis": {"orient": "bottom", "title": "Time re: stimulus onset (ms)", "values": [-200, 0, 200, 400, 600, 800, 1000], "labelExpr": "datum.value + ''", "labelPadding": 5, "titlePadding": 5}},
                      "y": {"field": "v", "type": "quantitative", "scale": {"domain": [-1.75, 2.25], "nice": false, "zero": false}, "axis": {"orient": "left", "title": "ERP (µV)", "values": [-1.5, -1, -0.5, 0, 0.5, 1, 1.5, 2], "labelExpr": "datum.value + ''", "labelPadding": 5, "titlePadding": 2}},
                      "y2": {"datum": 0}}},
        {"data": {"values": [{}]}, "mark": {"type": "rule", "color": "#111", "strokeWidth": 1.3}, "encoding": {"y": {"datum": 0, "type": "quantitative", "axis": null}}},
        {"data": {"values": [{}]}, "mark": {"type": "rule", "color": "#111", "strokeWidth": 1.3, "strokeDash": [4, 3]}, "encoding": {"x": {"datum": 0, "type": "quantitative", "axis": null}}},
        {"data": {"name": "ca"}, "transform": [{"filter": "datum.s=='A'"}], "mark": {"type": "line", "strokeWidth": 2, "interpolate": "monotone"},
         "encoding": {"x": {"field": "t", "type": "quantitative", "axis": null}, "y": {"field": "v", "type": "quantitative", "axis": null}, "color": {"datum": "Auditory Lead", "type": "nominal", "title": null, "scale": {"domain": ["Auditory Lead", "Visual Lead"], "range": ["#6dbf5e", "#e9502c"]}}}},
        {"data": {"name": "ca"}, "transform": [{"filter": "datum.s=='V'"}], "mark": {"type": "line", "strokeWidth": 2, "interpolate": "monotone"},
         "encoding": {"x": {"field": "t", "type": "quantitative", "axis": null}, "y": {"field": "v", "type": "quantitative", "axis": null}, "color": {"datum": "Visual Lead", "type": "nominal", "title": null, "scale": {"domain": ["Auditory Lead", "Visual Lead"], "range": ["#6dbf5e", "#e9502c"]}}}},
        {"data": {"name": "ca"}, "transform": [{"filter": "datum.s=='D'"}], "mark": {"type": "line", "color": "#111", "strokeWidth": 2, "interpolate": "monotone"},
         "encoding": {"x": {"field": "t", "type": "quantitative", "axis": {"orient": "top", "labels": false, "title": "A450V", "titleFont": "Liberation Sans", "titleFontSize": 16, "titlePadding": 12, "values": [-200, 0, 200, 400, 600, 800, 1000]}},
                      "y": {"field": "v", "type": "quantitative", "axis": {"orient": "right", "labels": false, "title": null, "values": [-1.5, -1, -0.5, 0, 0.5, 1, 1.5, 2]}}}},
        {"data": {"name": "sig"}, "transform": [{"filter": "datum.p=='a'"}], "mark": {"type": "rule", "color": "#111", "strokeWidth": 1.5},
         "encoding": {"x": {"field": "t1", "type": "quantitative", "axis": null}, "x2": {"field": "t2"}, "y": {"field": "y", "type": "quantitative", "axis": null}}}
      ]
    },
    {
      "layer": [
        {"data": {"name": "head"}, "transform": [{"filter": "datum.k=='box'"}], "mark": {"type": "rect", "fill": "white", "stroke": "#222", "strokeWidth": 1.5},
         "encoding": {"x": {"field": "x1", "type": "quantitative", "scale": {"domain": [-1.934, 8.728], "nice": false, "zero": false}, "axis": null}, "x2": {"field": "x2"}, "y": {"field": "y1", "type": "quantitative", "scale": {"domain": [-6.422, 1.976], "nice": false, "zero": false}, "axis": null}, "y2": {"field": "y2"}}},
        {"data": {"name": "head"}, "transform": [{"filter": "datum.k=='ear'"}], "mark": {"type": "rect", "fill": "white", "stroke": "#222", "strokeWidth": 1, "cornerRadius": 1.5},
         "encoding": {"x": {"field": "x1", "type": "quantitative", "scale": {"domain": [-1.934, 8.728], "nice": false, "zero": false}, "axis": null}, "x2": {"field": "x2"}, "y": {"field": "y1", "type": "quantitative", "scale": {"domain": [-6.422, 1.976], "nice": false, "zero": false}, "axis": null}, "y2": {"field": "y2"}}},
        {"data": {"name": "head"}, "transform": [{"filter": "datum.k=='nose'"}], "mark": {"type": "line", "color": "#222", "strokeWidth": 1.2, "interpolate": "monotone"},
         "encoding": {"x": {"field": "x1", "type": "quantitative", "scale": {"domain": [-1.934, 8.728], "nice": false, "zero": false}, "axis": null}, "y": {"field": "y1", "type": "quantitative", "scale": {"domain": [-6.422, 1.976], "nice": false, "zero": false}, "axis": null}}},
        {"data": {"name": "head"}, "transform": [{"filter": "datum.k=='head'"}], "mark": {"type": "point", "shape": "circle", "filled": true, "fill": "white", "stroke": "#222", "strokeWidth": 1.3, "size": 3295, "opacity": 1},
         "encoding": {"x": {"field": "x1", "type": "quantitative", "scale": {"domain": [-1.934, 8.728], "nice": false, "zero": false}, "axis": null}, "y": {"field": "y1", "type": "quantitative", "scale": {"domain": [-6.422, 1.976], "nice": false, "zero": false}, "axis": null}}},
        {"data": {"name": "ea"}, "mark": {"type": "point", "shape": "circle", "filled": true, "color": "#e8383d", "size": 17, "opacity": 1},
         "encoding": {"x": {"field": "u", "type": "quantitative", "scale": {"domain": [-1.934, 8.728], "nice": false, "zero": false}, "axis": null}, "y": {"field": "v", "type": "quantitative", "scale": {"domain": [-6.422, 1.976], "nice": false, "zero": false}, "axis": null}}}
      ]
    }
  ]
},
{
  "width": 306, "height": 241,
  "title": {"text": "b", "anchor": "start", "frame": "bounds", "font": "Liberation Sans", "fontSize": 18, "fontWeight": "bold", "baseline": "alphabetic", "offset": 0, "dy": 34},
  "resolve": {"scale": {"x": "independent", "y": "independent"}},
  "layer": [
    {
      "resolve": {"axis": {"x": "independent", "y": "independent"}},
      "layer": [
        {"data": {"name": "cb"}, "transform": [{"filter": "datum.s=='D'"}], "mark": {"type": "area", "color": "#d1d3d4", "interpolate": "monotone"},
         "encoding": {"x": {"field": "t", "type": "quantitative", "scale": {"domain": [-300, 1000], "nice": false, "zero": false}, "axis": {"orient": "bottom", "title": "Time re: stimulus onset (ms)", "values": [-200, 0, 200, 400, 600, 800, 1000], "labelExpr": "datum.value + ''", "labelPadding": 5, "titlePadding": 5}},
                      "y": {"field": "v", "type": "quantitative", "scale": {"domain": [-1.75, 2.25], "nice": false, "zero": false}, "axis": {"orient": "left", "title": "ERP (µV)", "values": [-1.5, -1, -0.5, 0, 0.5, 1, 1.5, 2], "labelExpr": "datum.value + ''", "labelPadding": 5, "titlePadding": 2}},
                      "y2": {"datum": 0}}},
        {"data": {"values": [{}]}, "mark": {"type": "rule", "color": "#111", "strokeWidth": 1.3}, "encoding": {"y": {"datum": 0, "type": "quantitative", "axis": null}}},
        {"data": {"values": [{}]}, "mark": {"type": "rule", "color": "#111", "strokeWidth": 1.3, "strokeDash": [4, 3]}, "encoding": {"x": {"datum": 0, "type": "quantitative", "axis": null}}},
        {"data": {"name": "cb"}, "transform": [{"filter": "datum.s=='A'"}], "mark": {"type": "line", "strokeWidth": 2, "interpolate": "monotone"},
         "encoding": {"x": {"field": "t", "type": "quantitative", "axis": null}, "y": {"field": "v", "type": "quantitative", "axis": null}, "color": {"datum": "Auditory Lead", "type": "nominal", "title": null, "scale": {"domain": ["Auditory Lead", "Visual Lead"], "range": ["#6dbf5e", "#e9502c"]}}}},
        {"data": {"name": "cb"}, "transform": [{"filter": "datum.s=='V'"}], "mark": {"type": "line", "strokeWidth": 2, "interpolate": "monotone"},
         "encoding": {"x": {"field": "t", "type": "quantitative", "axis": null}, "y": {"field": "v", "type": "quantitative", "axis": null}, "color": {"datum": "Visual Lead", "type": "nominal", "title": null, "scale": {"domain": ["Auditory Lead", "Visual Lead"], "range": ["#6dbf5e", "#e9502c"]}}}},
        {"data": {"name": "cb"}, "transform": [{"filter": "datum.s=='D'"}], "mark": {"type": "line", "color": "#111", "strokeWidth": 2, "interpolate": "monotone"},
         "encoding": {"x": {"field": "t", "type": "quantitative", "axis": {"orient": "top", "labels": false, "title": "A300V", "titleFont": "Liberation Sans", "titleFontSize": 16, "titlePadding": 12, "values": [-200, 0, 200, 400, 600, 800, 1000]}},
                      "y": {"field": "v", "type": "quantitative", "axis": {"orient": "right", "labels": false, "title": null, "values": [-1.5, -1, -0.5, 0, 0.5, 1, 1.5, 2]}}}},
        {"data": {"name": "sig"}, "transform": [{"filter": "datum.p=='b'"}], "mark": {"type": "rule", "color": "#111", "strokeWidth": 1.5},
         "encoding": {"x": {"field": "t1", "type": "quantitative", "axis": null}, "x2": {"field": "t2"}, "y": {"field": "y", "type": "quantitative", "axis": null}}}
      ]
    },
    {
      "layer": [
        {"data": {"name": "head"}, "transform": [{"filter": "datum.k=='box'"}], "mark": {"type": "rect", "fill": "white", "stroke": "#222", "strokeWidth": 1.5},
         "encoding": {"x": {"field": "x1", "type": "quantitative", "scale": {"domain": [-1.934, 8.728], "nice": false, "zero": false}, "axis": null}, "x2": {"field": "x2"}, "y": {"field": "y1", "type": "quantitative", "scale": {"domain": [-6.422, 1.976], "nice": false, "zero": false}, "axis": null}, "y2": {"field": "y2"}}},
        {"data": {"name": "head"}, "transform": [{"filter": "datum.k=='ear'"}], "mark": {"type": "rect", "fill": "white", "stroke": "#222", "strokeWidth": 1, "cornerRadius": 1.5},
         "encoding": {"x": {"field": "x1", "type": "quantitative", "scale": {"domain": [-1.934, 8.728], "nice": false, "zero": false}, "axis": null}, "x2": {"field": "x2"}, "y": {"field": "y1", "type": "quantitative", "scale": {"domain": [-6.422, 1.976], "nice": false, "zero": false}, "axis": null}, "y2": {"field": "y2"}}},
        {"data": {"name": "head"}, "transform": [{"filter": "datum.k=='nose'"}], "mark": {"type": "line", "color": "#222", "strokeWidth": 1.2, "interpolate": "monotone"},
         "encoding": {"x": {"field": "x1", "type": "quantitative", "scale": {"domain": [-1.934, 8.728], "nice": false, "zero": false}, "axis": null}, "y": {"field": "y1", "type": "quantitative", "scale": {"domain": [-6.422, 1.976], "nice": false, "zero": false}, "axis": null}}},
        {"data": {"name": "head"}, "transform": [{"filter": "datum.k=='head'"}], "mark": {"type": "point", "shape": "circle", "filled": true, "fill": "white", "stroke": "#222", "strokeWidth": 1.3, "size": 3295, "opacity": 1},
         "encoding": {"x": {"field": "x1", "type": "quantitative", "scale": {"domain": [-1.934, 8.728], "nice": false, "zero": false}, "axis": null}, "y": {"field": "y1", "type": "quantitative", "scale": {"domain": [-6.422, 1.976], "nice": false, "zero": false}, "axis": null}}},
        {"data": {"name": "eb"}, "mark": {"type": "point", "shape": "circle", "filled": true, "color": "#e8383d", "size": 17, "opacity": 1},
         "encoding": {"x": {"field": "u", "type": "quantitative", "scale": {"domain": [-1.934, 8.728], "nice": false, "zero": false}, "axis": null}, "y": {"field": "v", "type": "quantitative", "scale": {"domain": [-6.422, 1.976], "nice": false, "zero": false}, "axis": null}}}
      ]
    }
  ]
},
{
  "width": 306, "height": 241,
  "title": {"text": "c", "anchor": "start", "frame": "bounds", "font": "Liberation Sans", "fontSize": 18, "fontWeight": "bold", "baseline": "alphabetic", "offset": 0, "dy": 34},
  "resolve": {"scale": {"x": "independent", "y": "independent"}},
  "layer": [
    {
      "resolve": {"axis": {"x": "independent", "y": "independent"}},
      "layer": [
        {"data": {"name": "cc"}, "transform": [{"filter": "datum.s=='D'"}], "mark": {"type": "area", "color": "#d1d3d4", "interpolate": "monotone"},
         "encoding": {"x": {"field": "t", "type": "quantitative", "scale": {"domain": [-300, 1000], "nice": false, "zero": false}, "axis": {"orient": "bottom", "title": "Time re: stimulus onset (ms)", "values": [-200, 0, 200, 400, 600, 800, 1000], "labelExpr": "datum.value + ''", "labelPadding": 5, "titlePadding": 5}},
                      "y": {"field": "v", "type": "quantitative", "scale": {"domain": [-0.5, 3.25], "nice": false, "zero": false}, "axis": {"orient": "left", "title": "ERP (µV)", "values": [-0.5, 0, 0.5, 1, 1.5, 2, 2.5, 3], "labelExpr": "datum.value + ''", "labelPadding": 5, "titlePadding": 2}},
                      "y2": {"datum": 0}}},
        {"data": {"values": [{}]}, "mark": {"type": "rule", "color": "#111", "strokeWidth": 1.3}, "encoding": {"y": {"datum": 0, "type": "quantitative", "axis": null}}},
        {"data": {"values": [{}]}, "mark": {"type": "rule", "color": "#111", "strokeWidth": 1.3, "strokeDash": [4, 3]}, "encoding": {"x": {"datum": 0, "type": "quantitative", "axis": null}}},
        {"data": {"name": "cc"}, "transform": [{"filter": "datum.s=='A'"}], "mark": {"type": "line", "strokeWidth": 2, "interpolate": "monotone"},
         "encoding": {"x": {"field": "t", "type": "quantitative", "axis": null}, "y": {"field": "v", "type": "quantitative", "axis": null}, "color": {"datum": "Auditory Lead", "type": "nominal", "title": null, "scale": {"domain": ["Auditory Lead", "Visual Lead"], "range": ["#6dbf5e", "#e9502c"]}}}},
        {"data": {"name": "cc"}, "transform": [{"filter": "datum.s=='V'"}], "mark": {"type": "line", "strokeWidth": 2, "interpolate": "monotone"},
         "encoding": {"x": {"field": "t", "type": "quantitative", "axis": null}, "y": {"field": "v", "type": "quantitative", "axis": null}, "color": {"datum": "Visual Lead", "type": "nominal", "title": null, "scale": {"domain": ["Auditory Lead", "Visual Lead"], "range": ["#6dbf5e", "#e9502c"]}}}},
        {"data": {"name": "cc"}, "transform": [{"filter": "datum.s=='D'"}], "mark": {"type": "line", "color": "#111", "strokeWidth": 2, "interpolate": "monotone"},
         "encoding": {"x": {"field": "t", "type": "quantitative", "axis": {"orient": "top", "labels": false, "title": "V300A", "titleFont": "Liberation Sans", "titleFontSize": 16, "titlePadding": 12, "values": [-200, 0, 200, 400, 600, 800, 1000]}},
                      "y": {"field": "v", "type": "quantitative", "axis": {"orient": "right", "labels": false, "title": null, "values": [-0.5, 0, 0.5, 1, 1.5, 2, 2.5, 3]}}}},
        {"data": {"name": "sig"}, "transform": [{"filter": "datum.p=='c'"}], "mark": {"type": "rule", "color": "#111", "strokeWidth": 1.5},
         "encoding": {"x": {"field": "t1", "type": "quantitative", "axis": null}, "x2": {"field": "t2"}, "y": {"field": "y", "type": "quantitative", "axis": null}}}
      ]
    },
    {
      "layer": [
        {"data": {"name": "head"}, "transform": [{"filter": "datum.k=='box'"}], "mark": {"type": "rect", "fill": "white", "stroke": "#222", "strokeWidth": 1.5},
         "encoding": {"x": {"field": "x1", "type": "quantitative", "scale": {"domain": [-1.934, 8.728], "nice": false, "zero": false}, "axis": null}, "x2": {"field": "x2"}, "y": {"field": "y1", "type": "quantitative", "scale": {"domain": [-6.422, 1.976], "nice": false, "zero": false}, "axis": null}, "y2": {"field": "y2"}}},
        {"data": {"name": "head"}, "transform": [{"filter": "datum.k=='ear'"}], "mark": {"type": "rect", "fill": "white", "stroke": "#222", "strokeWidth": 1, "cornerRadius": 1.5},
         "encoding": {"x": {"field": "x1", "type": "quantitative", "scale": {"domain": [-1.934, 8.728], "nice": false, "zero": false}, "axis": null}, "x2": {"field": "x2"}, "y": {"field": "y1", "type": "quantitative", "scale": {"domain": [-6.422, 1.976], "nice": false, "zero": false}, "axis": null}, "y2": {"field": "y2"}}},
        {"data": {"name": "head"}, "transform": [{"filter": "datum.k=='nose'"}], "mark": {"type": "line", "color": "#222", "strokeWidth": 1.2, "interpolate": "monotone"},
         "encoding": {"x": {"field": "x1", "type": "quantitative", "scale": {"domain": [-1.934, 8.728], "nice": false, "zero": false}, "axis": null}, "y": {"field": "y1", "type": "quantitative", "scale": {"domain": [-6.422, 1.976], "nice": false, "zero": false}, "axis": null}}},
        {"data": {"name": "head"}, "transform": [{"filter": "datum.k=='head'"}], "mark": {"type": "point", "shape": "circle", "filled": true, "fill": "white", "stroke": "#222", "strokeWidth": 1.3, "size": 3295, "opacity": 1},
         "encoding": {"x": {"field": "x1", "type": "quantitative", "scale": {"domain": [-1.934, 8.728], "nice": false, "zero": false}, "axis": null}, "y": {"field": "y1", "type": "quantitative", "scale": {"domain": [-6.422, 1.976], "nice": false, "zero": false}, "axis": null}}},
        {"data": {"name": "ec"}, "mark": {"type": "point", "shape": "circle", "filled": true, "color": "#e8383d", "size": 17, "opacity": 1},
         "encoding": {"x": {"field": "u", "type": "quantitative", "scale": {"domain": [-1.934, 8.728], "nice": false, "zero": false}, "axis": null}, "y": {"field": "v", "type": "quantitative", "scale": {"domain": [-6.422, 1.976], "nice": false, "zero": false}, "axis": null}}}
      ]
    }
  ]
},
{
  "width": 306, "height": 241,
  "title": {"text": "d", "anchor": "start", "frame": "bounds", "font": "Liberation Sans", "fontSize": 18, "fontWeight": "bold", "baseline": "alphabetic", "offset": 0, "dy": 34},
  "resolve": {"scale": {"x": "independent", "y": "independent"}},
  "layer": [
    {
      "resolve": {"axis": {"x": "independent", "y": "independent"}},
      "layer": [
        {"data": {"name": "cd"}, "transform": [{"filter": "datum.s=='D'"}], "mark": {"type": "area", "color": "#d1d3d4", "interpolate": "monotone"},
         "encoding": {"x": {"field": "t", "type": "quantitative", "scale": {"domain": [-300, 1000], "nice": false, "zero": false}, "axis": {"orient": "bottom", "title": "Time re: stimulus onset (ms)", "values": [-200, 0, 200, 400, 600, 800, 1000], "labelExpr": "datum.value + ''", "labelPadding": 5, "titlePadding": 5}},
                      "y": {"field": "v", "type": "quantitative", "scale": {"domain": [-0.5, 3.25], "nice": false, "zero": false}, "axis": {"orient": "left", "title": "ERP (µV)", "values": [-0.5, 0, 0.5, 1, 1.5, 2, 2.5, 3], "labelExpr": "datum.value + ''", "labelPadding": 5, "titlePadding": 2}},
                      "y2": {"datum": 0}}},
        {"data": {"values": [{}]}, "mark": {"type": "rule", "color": "#111", "strokeWidth": 1.3}, "encoding": {"y": {"datum": 0, "type": "quantitative", "axis": null}}},
        {"data": {"values": [{}]}, "mark": {"type": "rule", "color": "#111", "strokeWidth": 1.3, "strokeDash": [4, 3]}, "encoding": {"x": {"datum": 0, "type": "quantitative", "axis": null}}},
        {"data": {"name": "cd"}, "transform": [{"filter": "datum.s=='A'"}], "mark": {"type": "line", "strokeWidth": 2, "interpolate": "monotone"},
         "encoding": {"x": {"field": "t", "type": "quantitative", "axis": null}, "y": {"field": "v", "type": "quantitative", "axis": null}, "color": {"datum": "Auditory Lead", "type": "nominal", "title": null, "scale": {"domain": ["Auditory Lead", "Visual Lead"], "range": ["#6dbf5e", "#e9502c"]}}}},
        {"data": {"name": "cd"}, "transform": [{"filter": "datum.s=='V'"}], "mark": {"type": "line", "strokeWidth": 2, "interpolate": "monotone"},
         "encoding": {"x": {"field": "t", "type": "quantitative", "axis": null}, "y": {"field": "v", "type": "quantitative", "axis": null}, "color": {"datum": "Visual Lead", "type": "nominal", "title": null, "scale": {"domain": ["Auditory Lead", "Visual Lead"], "range": ["#6dbf5e", "#e9502c"]}}}},
        {"data": {"name": "cd"}, "transform": [{"filter": "datum.s=='D'"}], "mark": {"type": "line", "color": "#111", "strokeWidth": 2, "interpolate": "monotone"},
         "encoding": {"x": {"field": "t", "type": "quantitative", "axis": {"orient": "top", "labels": false, "title": "V450A", "titleFont": "Liberation Sans", "titleFontSize": 16, "titlePadding": 12, "values": [-200, 0, 200, 400, 600, 800, 1000]}},
                      "y": {"field": "v", "type": "quantitative", "axis": {"orient": "right", "labels": false, "title": null, "values": [-0.5, 0, 0.5, 1, 1.5, 2, 2.5, 3]}}}},
        {"data": {"name": "sig"}, "transform": [{"filter": "datum.p=='d'"}], "mark": {"type": "rule", "color": "#111", "strokeWidth": 1.5},
         "encoding": {"x": {"field": "t1", "type": "quantitative", "axis": null}, "x2": {"field": "t2"}, "y": {"field": "y", "type": "quantitative", "axis": null}}}
      ]
    },
    {
      "layer": [
        {"data": {"name": "head"}, "transform": [{"filter": "datum.k=='box'"}], "mark": {"type": "rect", "fill": "white", "stroke": "#222", "strokeWidth": 1.5},
         "encoding": {"x": {"field": "x1", "type": "quantitative", "scale": {"domain": [-1.934, 8.728], "nice": false, "zero": false}, "axis": null}, "x2": {"field": "x2"}, "y": {"field": "y1", "type": "quantitative", "scale": {"domain": [-6.422, 1.976], "nice": false, "zero": false}, "axis": null}, "y2": {"field": "y2"}}},
        {"data": {"name": "head"}, "transform": [{"filter": "datum.k=='ear'"}], "mark": {"type": "rect", "fill": "white", "stroke": "#222", "strokeWidth": 1, "cornerRadius": 1.5},
         "encoding": {"x": {"field": "x1", "type": "quantitative", "scale": {"domain": [-1.934, 8.728], "nice": false, "zero": false}, "axis": null}, "x2": {"field": "x2"}, "y": {"field": "y1", "type": "quantitative", "scale": {"domain": [-6.422, 1.976], "nice": false, "zero": false}, "axis": null}, "y2": {"field": "y2"}}},
        {"data": {"name": "head"}, "transform": [{"filter": "datum.k=='nose'"}], "mark": {"type": "line", "color": "#222", "strokeWidth": 1.2, "interpolate": "monotone"},
         "encoding": {"x": {"field": "x1", "type": "quantitative", "scale": {"domain": [-1.934, 8.728], "nice": false, "zero": false}, "axis": null}, "y": {"field": "y1", "type": "quantitative", "scale": {"domain": [-6.422, 1.976], "nice": false, "zero": false}, "axis": null}}},
        {"data": {"name": "head"}, "transform": [{"filter": "datum.k=='head'"}], "mark": {"type": "point", "shape": "circle", "filled": true, "fill": "white", "stroke": "#222", "strokeWidth": 1.3, "size": 3295, "opacity": 1},
         "encoding": {"x": {"field": "x1", "type": "quantitative", "scale": {"domain": [-1.934, 8.728], "nice": false, "zero": false}, "axis": null}, "y": {"field": "y1", "type": "quantitative", "scale": {"domain": [-6.422, 1.976], "nice": false, "zero": false}, "axis": null}}},
        {"data": {"name": "ed"}, "mark": {"type": "point", "shape": "circle", "filled": true, "color": "#e8383d", "size": 17, "opacity": 1},
         "encoding": {"x": {"field": "u", "type": "quantitative", "scale": {"domain": [-1.934, 8.728], "nice": false, "zero": false}, "axis": null}, "y": {"field": "v", "type": "quantitative", "scale": {"domain": [-6.422, 1.976], "nice": false, "zero": false}, "axis": null}}}
      ]
    }
  ]
}
]
}
